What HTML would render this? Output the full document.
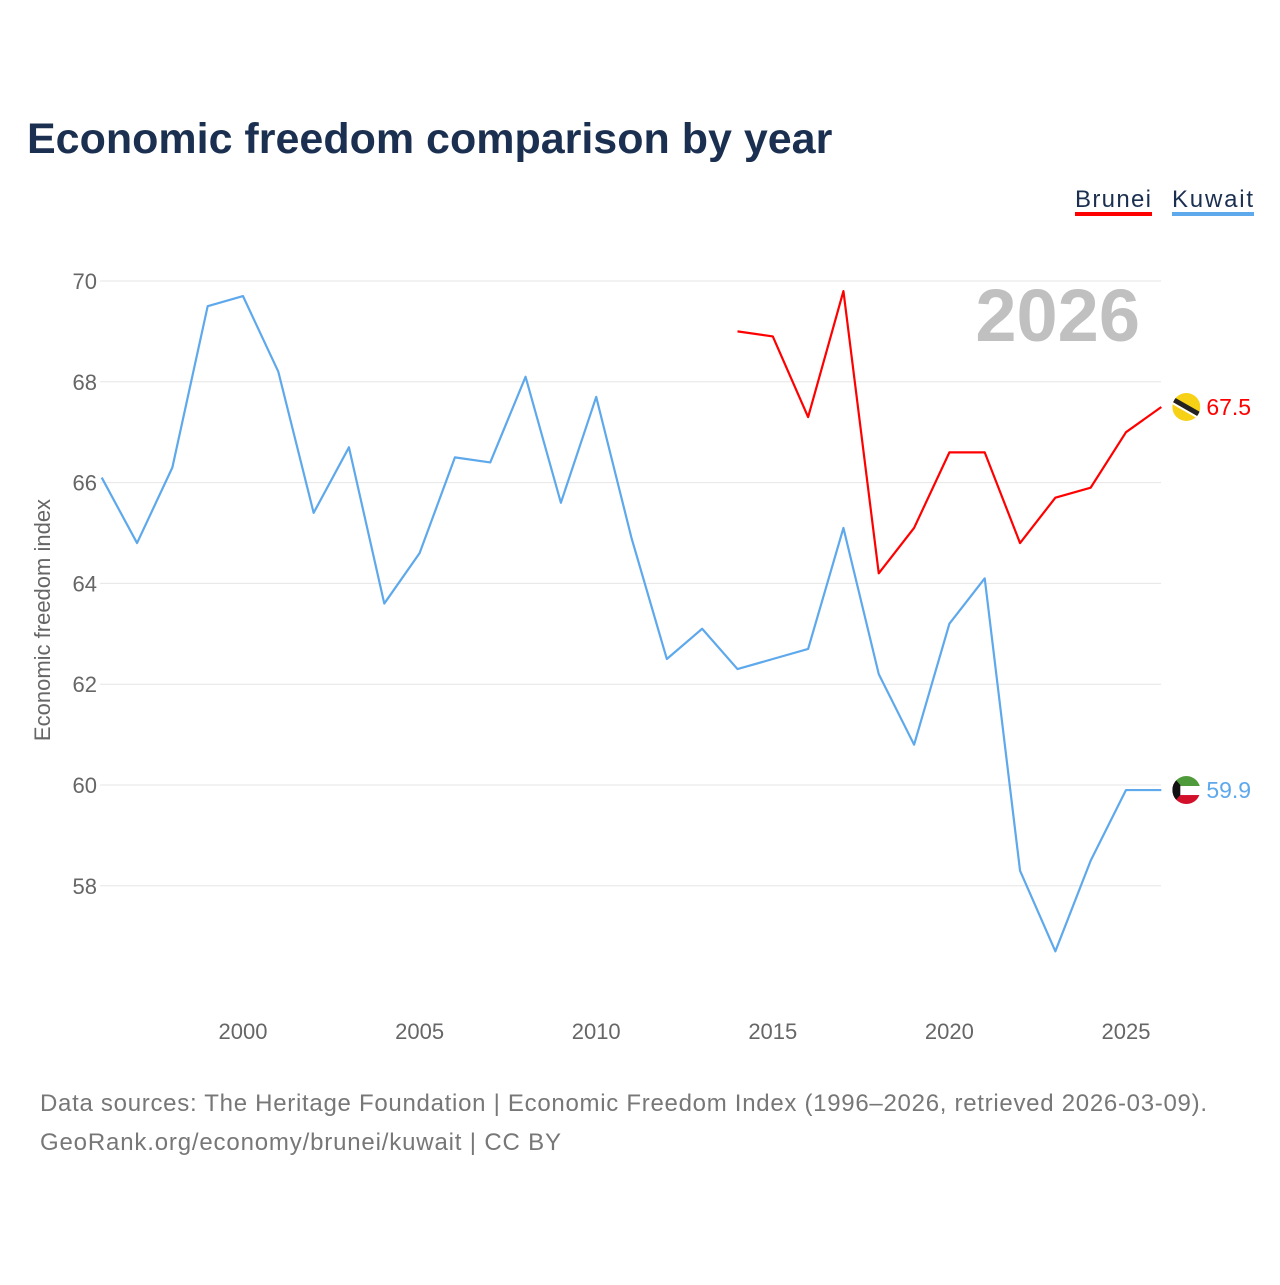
<!DOCTYPE html>
<html><head><meta charset="utf-8"><style>
body{margin:0;background:#fff;font-family:"Liberation Sans",sans-serif;}
svg text{font-family:"Liberation Sans",sans-serif;}
</style></head><body>
<svg id="chart" width="1280" height="1280" xmlns="http://www.w3.org/2000/svg">
<text x="27" y="153" font-size="43" font-weight="bold" fill="#1b3050">Economic freedom comparison by year</text>
<g>
<text x="1075" y="207" font-size="24" fill="#1b3050" textLength="76">Brunei</text>
<rect x="1075" y="212" width="77" height="4" fill="#ff0000"/>
<text x="1172" y="207" font-size="24" fill="#1b3050" textLength="81">Kuwait</text>
<rect x="1172" y="212" width="82" height="4" fill="#5ea8ec"/>
</g>
<text x="1140" y="341" font-size="74" font-weight="bold" fill="#c0c0c0" text-anchor="end">2026</text>
<g id="grid"></g><g id="xticks"></g>
<text transform="translate(50,620) rotate(-90)" font-size="22" fill="#666" text-anchor="middle">Economic freedom index</text>
<g id="series"></g>
<text x="40" y="1111" font-size="24" fill="#777" textLength="1167">Data sources: The Heritage Foundation | Economic Freedom Index (1996–2026, retrieved 2026-03-09).</text>
<text x="40" y="1150" font-size="24" fill="#777" textLength="521">GeoRank.org/economy/brunei/kuwait | CC BY</text>
</svg>
<script>
const years=[1996,1997,1998,1999,2000,2001,2002,2003,2004,2005,2006,2007,2008,2009,2010,2011,2012,2013,2014,2015,2016,2017,2018,2019,2020,2021,2022,2023,2024,2025,2026];
const kuwait=[66.1,64.8,66.3,69.5,69.7,68.2,65.4,66.7,63.6,64.6,66.5,66.4,68.1,65.6,67.7,64.9,62.5,63.1,62.3,62.5,62.7,65.1,62.2,60.8,63.2,64.1,58.3,56.7,58.5,59.9,59.9];
const bruneiYears=[2014,2015,2016,2017,2018,2019,2020,2021,2022,2023,2024,2025,2026];
const brunei=[69.0,68.9,67.3,69.8,64.2,65.1,66.6,66.6,64.8,65.7,65.9,67.0,67.5];
const yTicks=[58,60,62,64,66,68,70];
const xTicks=[2000,2005,2010,2015,2020,2025];
const NS="http://www.w3.org/2000/svg";
const X=y=>243+(y-2000)*35.32;
const Y=v=>281+(70-v)*50.4;
function mk(tag,attrs,parent){const e=document.createElementNS(NS,tag);for(const k in attrs)e.setAttribute(k,attrs[k]);parent.appendChild(e);return e;}
const grid=document.getElementById('grid');
yTicks.forEach(t=>{
 const l=mk('line',{x1:100,x2:1161,y1:Y(t),y2:Y(t),stroke:'#e6e6e6','stroke-width':1},grid);
 
 
 const tx=mk('text',{x:97,y:Y(t)+8,'font-size':22,fill:'#666','text-anchor':'end'},grid);
 tx.textContent=t;
 
 
});
const xt=document.getElementById('xticks');
xTicks.forEach(t=>{
 const tx=mk('text',{x:X(t),y:1039,'font-size':22,fill:'#666','text-anchor':'middle'},xt);
 tx.textContent=t;
 
 
});
const s=document.getElementById('series');
const defs=mk('defs',{},s);
function line(xs,vs,color,name){
 const p=mk('polyline',{points:xs.map((y,i)=>X(y)+','+Y(vs[i])).join(' '),fill:'none',stroke:color,'stroke-width':2.2,'stroke-linejoin':'round'},s);
 
 
 const lx=X(xs[xs.length-1]), ly=Y(vs[vs.length-1]);
 const cx=lx+25;
 const cp=mk('clipPath',{id:'clip-'+name},defs);
 mk('circle',{cx:cx,cy:ly,r:14},cp);
 const g=mk('g',{'clip-path':'url(#clip-'+name+')'},s);
 
 
 if(name=='brunei'){
  mk('rect',{x:cx-14,y:ly-14,width:28,height:28,fill:'#f7d116'},g);
  mk('line',{x1:cx-14,y1:ly-8,x2:cx+14,y2:ly+8,stroke:'#222','stroke-width':5},g);
  mk('line',{x1:cx-14,y1:ly-4,x2:cx+14,y2:ly+12,stroke:'#fff','stroke-width':2},g);
 }else{
  mk('rect',{x:cx-14,y:ly-14,width:28,height:10,fill:'#4f9a3a'},g);
  mk('rect',{x:cx-14,y:ly-4,width:28,height:9,fill:'#fff'},g);
  mk('rect',{x:cx-14,y:ly+5,width:28,height:10,fill:'#d3102a'},g);
  mk('path',{d:`M${cx-14},${ly-14} L${cx-6},${ly-5} L${cx-6},${ly+5} L${cx-14},${ly+14} Z`,fill:'#111'},g);
 }
 const t=mk('text',{x:lx+45,y:ly+8,'font-size':23,fill:color},s);
 t.textContent=vs[vs.length-1].toFixed(1);
 
 
}
line(years,kuwait,'#5ea8ec','kuwait');
line(bruneiYears,brunei,'#ff0000','brunei');
</script>
</body></html>
